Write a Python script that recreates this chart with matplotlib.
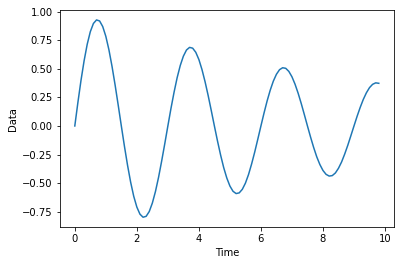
import matplotlib
matplotlib.use("Agg")
import matplotlib.pyplot as plt

# time samples, 0.0 .. 9.8 step 0.1
time = [round(0.1 * i, 1) for i in range(99)]

# values
data = [
    0.000, 0.206, 0.399, 0.570, 0.714, 0.824, 0.896, 0.927, 0.918, 0.869,
    0.784, 0.666, 0.521, 0.357, 0.181, 0.000, -0.177, -0.343, -0.491, -0.615,
    -0.709, -0.771, -0.798, -0.790, -0.748, -0.674, -0.573, -0.449, -0.307, -0.156,
    0.000, 0.153, 0.295, 0.423, 0.529, 0.610, 0.664, 0.687, 0.680, 0.644,
    0.581, 0.493, 0.386, 0.265, 0.134, 0.000, -0.131, -0.254, -0.364, -0.455,
    -0.525, -0.571, -0.591, -0.585, -0.554, -0.500, -0.425, -0.332, -0.228, -0.115,
    0.000, 0.113, 0.219, 0.313, 0.392, 0.452, 0.492, 0.509, 0.504, 0.477,
    0.430, 0.365, 0.286, 0.196, 0.099, 0.000, -0.097, -0.188, -0.270, -0.337,
    -0.389, -0.423, -0.438, -0.434, -0.411, -0.370, -0.315, -0.246, -0.169, -0.085,
    0.000, 0.084, 0.162, 0.232, 0.290, 0.335, 0.364, 0.377, 0.373,
]

fig = plt.figure(figsize=(400 / 72, 265 / 72), dpi=72)
ax = fig.add_axes([0.149, 0.143, 0.836, 0.819])
ax.plot(time, data)
ax.set_xlabel('Time')
ax.set_ylabel('Data')
fig.savefig('out.png', dpi=72)
